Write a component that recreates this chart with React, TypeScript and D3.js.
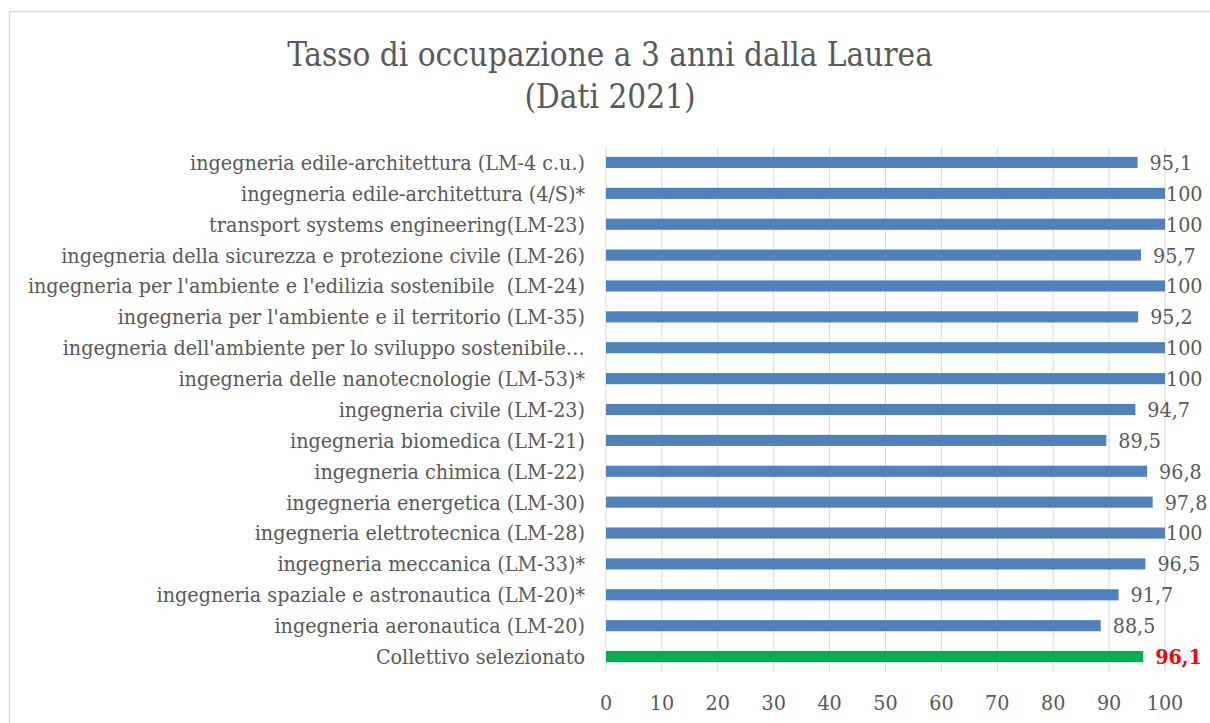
import React from 'react';
import * as d3 from 'd3';

// categories top to bottom
const categories = [
  'ingegneria edile-architettura (LM-4 c.u.)',
  'ingegneria edile-architettura (4/S)*',
  'transport systems engineering(LM-23)',
  'ingegneria della sicurezza e protezione civile (LM-26)',
  "ingegneria per l'ambiente e l'edilizia sostenibile  (LM-24)",
  "ingegneria per l'ambiente e il territorio (LM-35)",
  "ingegneria dell'ambiente per lo sviluppo sostenibile…",
  'ingegneria delle nanotecnologie (LM-53)*',
  'ingegneria civile (LM-23)',
  'ingegneria biomedica (LM-21)',
  'ingegneria chimica (LM-22)',
  'ingegneria energetica (LM-30)',
  'ingegneria elettrotecnica (LM-28)',
  'ingegneria meccanica (LM-33)*',
  'ingegneria spaziale e astronautica (LM-20)*',
  'ingegneria aeronautica (LM-20)',
  'Collettivo selezionato',
];
const values = [95.1, 100, 100, 95.7, 100, 95.2, 100, 100, 94.7, 89.5, 96.8, 97.8, 100, 96.5, 91.7, 88.5, 96.1];
const valueLabels = ['95,1', '100', '100', '95,7', '100', '95,2', '100', '100', '94,7', '89,5', '96,8', '97,8', '100', '96,5', '91,7', '88,5', '96,1'];
const ticks = [0, 10, 20, 30, 40, 50, 60, 70, 80, 90, 100];
const highlight = 'Collettivo selezionato';

const W = 1210;
const H = 723;
const font = '"DejaVu Serif Condensed", "DejaVu Serif", serif';

export default function App() {
  const x = d3.scaleLinear().domain([0, 100]).range([606, 1165]);
  const y = d3.scaleBand().domain(categories).range([147, 672]).paddingInner(0.64).paddingOuter(0.32);

  return (
    <svg width={W} height={H} style={{ position: 'absolute', left: 0, top: 0, background: '#fff' }}>
      <rect x={9.5} y={11.5} width={W} height={H} fill="#fff" stroke="#d9d9d9" strokeWidth={1.5} />
      <text x={610} y={66} textAnchor="middle" fontFamily={font} fontSize={33} fill="#595959">
        Tasso di occupazione a 3 anni dalla Laurea
      </text>
      <text x={610} y={108} textAnchor="middle" fontFamily={font} fontSize={33} fill="#595959">
        (Dati 2021)
      </text>

      {/* gridlines */}
      {ticks.map(t => (
        <line key={t} x1={x(t)} x2={x(t)} y1={147} y2={672} stroke="#d9d9d9" strokeWidth={1} />
      ))}

      {/* bars */}
      {categories.map((c, i) => (
        <rect
          key={c}
          x={x(0)}
          y={y(c)}
          width={x(values[i]) - x(0)}
          height={y.bandwidth()}
          fill={c === highlight ? '#00b050' : '#4f81bd'}
        />
      ))}

      {/* category labels */}
      {categories.map(c => (
        <text
          key={c}
          x={585}
          y={y(c)! + y.bandwidth() / 2}
          dy="0.35em"
          textAnchor="end"
          fontFamily={font}
          fontSize={21.3}
          fill="#595959"
          style={{ whiteSpace: 'pre' }}
        >
          {c}
        </text>
      ))}

      {/* value labels */}
      {categories.map((c, i) => {
        const hi = c === highlight;
        return (
          <text
            key={c}
            x={Math.min(x(values[i]) + 12, x(100) + 1)}
            y={y(c)! + y.bandwidth() / 2}
            dy="0.35em"
            fontFamily={font}
            fontSize={21.3}
            fontWeight={hi ? 'bold' : 'normal'}
            fill={hi ? '#ff0000' : '#595959'}
          >
            {valueLabels[i]}
          </text>
        );
      })}

      {/* x tick labels */}
      {ticks.map(t => (
        <text key={t} x={x(t)} y={710} textAnchor="middle" fontFamily={font} fontSize={21.3} fill="#595959">
          {t}
        </text>
      ))}
    </svg>
  );
}
